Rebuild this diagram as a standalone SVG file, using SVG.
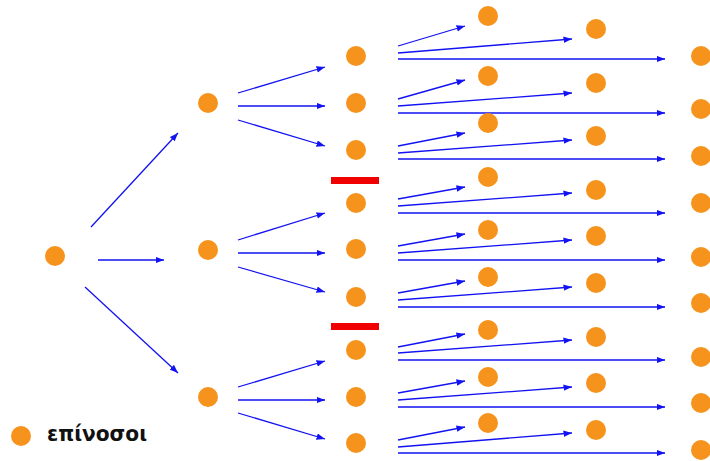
<svg xmlns="http://www.w3.org/2000/svg" width="710" height="461" viewBox="0 0 710 461">
<style>
.n{fill:#F5931C}
.c line{stroke:#1212F2;stroke-width:1.3;marker-end:url(#ah)}
.bar{fill:#F00000}
.lbl{font-family:"DejaVu Sans",sans-serif;font-weight:bold;font-size:22px;fill:#111}
</style>
<defs>
<marker id="ah" markerUnits="userSpaceOnUse" markerWidth="9" markerHeight="7" refX="8.5" refY="3.25" orient="auto">
<path d="M0,0 L8.5,3.25 L0,6.5 z" fill="#1212F2"/>
</marker>
</defs>
<rect width="710" height="461" fill="#fff"/>
<g id="connectors" class="c">
<line x1="91" y1="227" x2="178" y2="133"/>
<line x1="98" y1="260" x2="164" y2="260"/>
<line x1="85" y1="287" x2="178" y2="373"/>
<line x1="238" y1="93" x2="325" y2="67"/>
<line x1="238" y1="106" x2="325" y2="106"/>
<line x1="238" y1="120" x2="325" y2="146"/>
<line x1="238" y1="240" x2="325" y2="213"/>
<line x1="238" y1="253" x2="325" y2="253"/>
<line x1="238" y1="267" x2="325" y2="292"/>
<line x1="238" y1="387" x2="325" y2="361"/>
<line x1="238" y1="400" x2="325" y2="400"/>
<line x1="238" y1="413" x2="325" y2="439"/>
<line x1="398" y1="46" x2="465" y2="26"/>
<line x1="398" y1="53" x2="572" y2="39"/>
<line x1="398" y1="59" x2="665" y2="59"/>
<line x1="398" y1="99" x2="465" y2="80"/>
<line x1="398" y1="106" x2="572" y2="93"/>
<line x1="398" y1="113" x2="665" y2="113"/>
<line x1="398" y1="146" x2="465" y2="133"/>
<line x1="398" y1="153" x2="572" y2="140"/>
<line x1="398" y1="159" x2="665" y2="159"/>
<line x1="398" y1="199" x2="465" y2="187"/>
<line x1="398" y1="206" x2="572" y2="193"/>
<line x1="398" y1="213" x2="665" y2="213"/>
<line x1="398" y1="246" x2="465" y2="234"/>
<line x1="398" y1="253" x2="572" y2="240"/>
<line x1="398" y1="260" x2="665" y2="260"/>
<line x1="398" y1="293" x2="465" y2="281"/>
<line x1="398" y1="300" x2="572" y2="287"/>
<line x1="398" y1="307" x2="665" y2="307"/>
<line x1="398" y1="347" x2="465" y2="334"/>
<line x1="398" y1="353" x2="572" y2="340"/>
<line x1="398" y1="360" x2="665" y2="360"/>
<line x1="398" y1="393" x2="465" y2="381"/>
<line x1="398" y1="400" x2="572" y2="387"/>
<line x1="398" y1="407" x2="665" y2="407"/>
<line x1="398" y1="440" x2="465" y2="427"/>
<line x1="398" y1="447" x2="572" y2="433"/>
<line x1="398" y1="453" x2="665" y2="453"/>
</g>
<g id="barriers">
<rect class="bar" x="331" y="177" width="48" height="7"/>
<rect class="bar" x="331" y="323" width="48" height="7"/>
</g>
<g id="root"><circle class="n" cx="55" cy="256" r="10"/></g>
<g id="level1">
<g id="n1a"><circle class="n" cx="208" cy="103" r="10"/></g>
<g id="n1b"><circle class="n" cx="208" cy="250" r="10"/></g>
<g id="n1c"><circle class="n" cx="208" cy="397" r="10"/></g>
</g>
<g id="level2">
<g id="n2a"><circle class="n" cx="356" cy="56" r="10"/></g>
<g id="n2b"><circle class="n" cx="356" cy="103" r="10"/></g>
<g id="n2c"><circle class="n" cx="356" cy="150" r="10"/></g>
<g id="n2d"><circle class="n" cx="356" cy="203" r="10"/></g>
<g id="n2e"><circle class="n" cx="356" cy="249" r="10"/></g>
<g id="n2f"><circle class="n" cx="356" cy="297" r="10"/></g>
<g id="n2g"><circle class="n" cx="356" cy="350" r="10"/></g>
<g id="n2h"><circle class="n" cx="356" cy="397" r="10"/></g>
<g id="n2i"><circle class="n" cx="356" cy="443" r="10"/></g>
</g>
<g id="level3">
<g id="n3a"><circle class="n" cx="488" cy="16" r="10"/></g>
<g id="n3b"><circle class="n" cx="488" cy="76" r="10"/></g>
<g id="n3c"><circle class="n" cx="488" cy="123" r="10"/></g>
<g id="n3d"><circle class="n" cx="488" cy="177" r="10"/></g>
<g id="n3e"><circle class="n" cx="488" cy="230" r="10"/></g>
<g id="n3f"><circle class="n" cx="488" cy="277" r="10"/></g>
<g id="n3g"><circle class="n" cx="488" cy="330" r="10"/></g>
<g id="n3h"><circle class="n" cx="488" cy="377" r="10"/></g>
<g id="n3i"><circle class="n" cx="488" cy="423" r="10"/></g>
</g>
<g id="level4">
<g id="n4a"><circle class="n" cx="596" cy="29" r="10"/></g>
<g id="n4b"><circle class="n" cx="596" cy="83" r="10"/></g>
<g id="n4c"><circle class="n" cx="596" cy="136" r="10"/></g>
<g id="n4d"><circle class="n" cx="596" cy="190" r="10"/></g>
<g id="n4e"><circle class="n" cx="596" cy="236" r="10"/></g>
<g id="n4f"><circle class="n" cx="596" cy="283" r="10"/></g>
<g id="n4g"><circle class="n" cx="596" cy="337" r="10"/></g>
<g id="n4h"><circle class="n" cx="596" cy="383" r="10"/></g>
<g id="n4i"><circle class="n" cx="596" cy="430" r="10"/></g>
</g>
<g id="level5">
<g id="n5a"><circle class="n" cx="701" cy="56" r="10"/></g>
<g id="n5b"><circle class="n" cx="701" cy="109" r="10"/></g>
<g id="n5c"><circle class="n" cx="701" cy="156" r="10"/></g>
<g id="n5d"><circle class="n" cx="701" cy="203" r="10"/></g>
<g id="n5e"><circle class="n" cx="701" cy="257" r="10"/></g>
<g id="n5f"><circle class="n" cx="701" cy="303" r="10"/></g>
<g id="n5g"><circle class="n" cx="701" cy="357" r="10"/></g>
<g id="n5h"><circle class="n" cx="701" cy="403" r="10"/></g>
<g id="n5i"><circle class="n" cx="701" cy="450" r="10"/></g>
</g>
<g id="legend">
<circle class="n" cx="21" cy="436" r="10"/>
<text class="lbl" x="47" y="441" textLength="100" lengthAdjust="spacingAndGlyphs">επίνοσοι</text>
</g>
</svg>
